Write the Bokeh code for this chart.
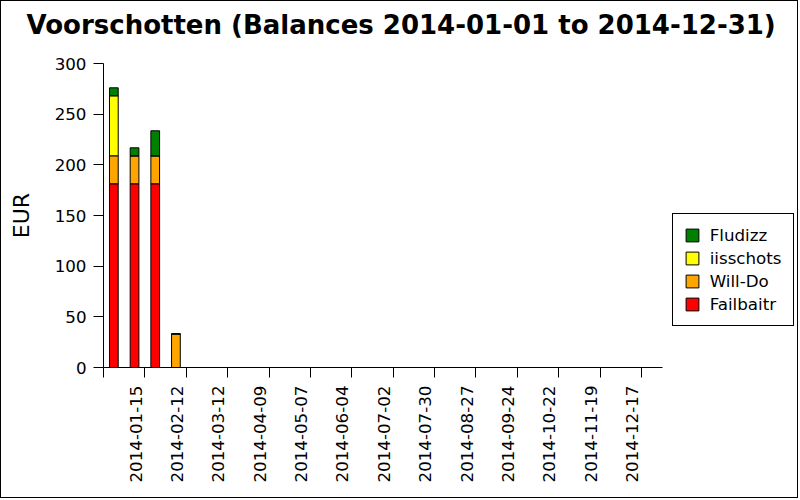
import math
from datetime import datetime
from bokeh.plotting import figure
from bokeh.models import (Range1d, FixedTicker, CustomJSTickFormatter, Legend,
                          LegendItem, ColumnDataSource, Title)
from bokeh.embed import file_html
from bokeh.resources import INLINE

# ---------------- data ----------------
bar_dates = ["2013-12-25", "2014-01-08", "2014-01-22", "2014-02-05"]
failbaitr = [181.3, 181.3, 181.3, 0.0]
will_do = [27.6, 27.6, 27.6, 33.2]
iisschots = [59.2, 0.0, 0.0, 0.0]
fludizz = [7.9, 7.9, 24.7, 0.0]
series = ["Failbaitr", "Will-Do", "iisschots", "Fludizz"]
colors = ["#ff0000", "#ffa500", "#ffff00", "#008000"]

tick_dates = ["2013-12-18", "2014-01-15", "2014-02-12", "2014-03-12", "2014-04-09",
              "2014-05-07", "2014-06-04", "2014-07-02", "2014-07-30", "2014-08-27",
              "2014-09-24", "2014-10-22", "2014-11-19", "2014-12-17"]
tick_labels = ["", "2014-01-15", "2014-02-12", "2014-03-12", "2014-04-09",
               "2014-05-07", "2014-06-04", "2014-07-02", "2014-07-30", "2014-08-27",
               "2014-09-24", "2014-10-22", "2014-11-19", "2014-12-17"]
y_ticks = [0, 50, 100, 150, 200, 250, 300]
x_start, x_end = "2013-12-18", "2014-12-31"

DAY = 86400000.0


def ms(s):
    return (datetime.strptime(s, "%Y-%m-%d") - datetime(1970, 1, 1)).total_seconds() * 1000.0


FONT = "DejaVu Sans"
LABEL_SHIFT = 6.3 * DAY   # labels sit right-aligned left of their tick

# layout: the frame is widened so the legend fits inside it; the x axis is bounded
W, H = 798, 498
BL, BR, BT, BB = 102, 3, 62, 132
AXIS_PX = 558.7
FRAME_PX = W - BL - BR
view_end = ms(x_start) + (ms(x_end) - ms(x_start)) * FRAME_PX / AXIS_PX

src = ColumnDataSource(dict(x=[ms(d) for d in bar_dates], Failbaitr=failbaitr,
                            **{"Will-Do": will_do}, iisschots=iisschots, Fludizz=fludizz))

p = figure(width=W, height=H, x_axis_type="datetime",
           x_range=Range1d(ms(x_start), view_end), y_range=Range1d(0, 300),
           output_backend="svg", toolbar_location=None,
           min_border_left=BL, min_border_right=BR, min_border_top=BT, min_border_bottom=BB,
           title="Voorschotten (Balances 2014-01-01 to 2014-12-31)")
p.styles = {"border": "1px solid black"}
p.background_fill_color = "white"
p.border_fill_color = "white"
p.outline_line_color = None
p.xgrid.visible = False
p.ygrid.visible = False

p.title.text_font = FONT
p.title.text_font_size = "26px"
p.title.text_font_style = "bold"
p.title.text_color = "black"
p.title.align = "left"
p.title.offset = -77
p.title.vertical_align = "top"
p.title.standoff = 16

xa = p.below[0]
ya = p.left[0]

# blank gap between the title and the frame
p.add_layout(Title(text=" ", text_font_size="2px", standoff=10), "above")

renderers = p.vbar_stack(series, x="x", width=5.9 * DAY, fill_color=colors,
                         line_color="black", line_width=1, source=src)

# x axis
xa.bounds = (ms(x_start), ms(x_end))
lab_pos = [ms(d) - LABEL_SHIFT for d, l in zip(tick_dates, tick_labels) if l]
lab_txt = [l for l in tick_labels if l]
xa.ticker = FixedTicker(ticks=lab_pos, minor_ticks=[ms(d) for d in tick_dates])
xa.formatter = CustomJSTickFormatter(args=dict(pos=lab_pos, labels=lab_txt), code="""
let best = 0, bd = Infinity;
for (let i = 0; i < pos.length; i++) { const d = Math.abs(pos[i] - tick); if (d < bd) { bd = d; best = i } }
return labels[best];
""")
xa.major_tick_line_color = None
xa.major_tick_out = 10
xa.major_tick_in = 0
xa.minor_tick_line_color = "black"
xa.minor_tick_out = 10
xa.minor_tick_in = 0
xa.major_label_orientation = math.pi / 2
xa.major_label_standoff = 8
xa.major_label_text_font = FONT
xa.major_label_text_font_size = "16.7px"
xa.major_label_text_color = "black"
xa.axis_line_color = "black"

# y axis
ya.ticker = FixedTicker(ticks=y_ticks)
ya.major_tick_out = 10
ya.major_tick_in = 0
ya.minor_tick_line_color = None
ya.major_label_standoff = 7
ya.major_label_text_font = FONT
ya.major_label_text_font_size = "16.7px"
ya.major_label_text_color = "black"
ya.axis_line_color = "black"
ya.major_tick_line_color = "black"
ya.axis_label = "EUR"
ya.axis_label_text_font = FONT
ya.axis_label_text_font_size = "22px"
ya.axis_label_text_font_style = "normal"
ya.axis_label_text_color = "black"
ya.axis_label_standoff = 18

items = [LegendItem(label=s, renderers=[r]) for s, r in reversed(list(zip(series, renderers)))]
legend = Legend(items=items, location=(568.7, 41), border_line_color="black", border_line_width=1,
                border_line_alpha=1.0, background_fill_color="white", background_fill_alpha=1.0,
                label_text_font=FONT, label_text_font_size="16.7px", label_text_color="black",
                glyph_width=16, glyph_height=16, label_height=16, label_standoff=10,
                padding=11, spacing=3, margin=0)
p.add_layout(legend)

open("out.html", "w").write(file_html(p, INLINE))
